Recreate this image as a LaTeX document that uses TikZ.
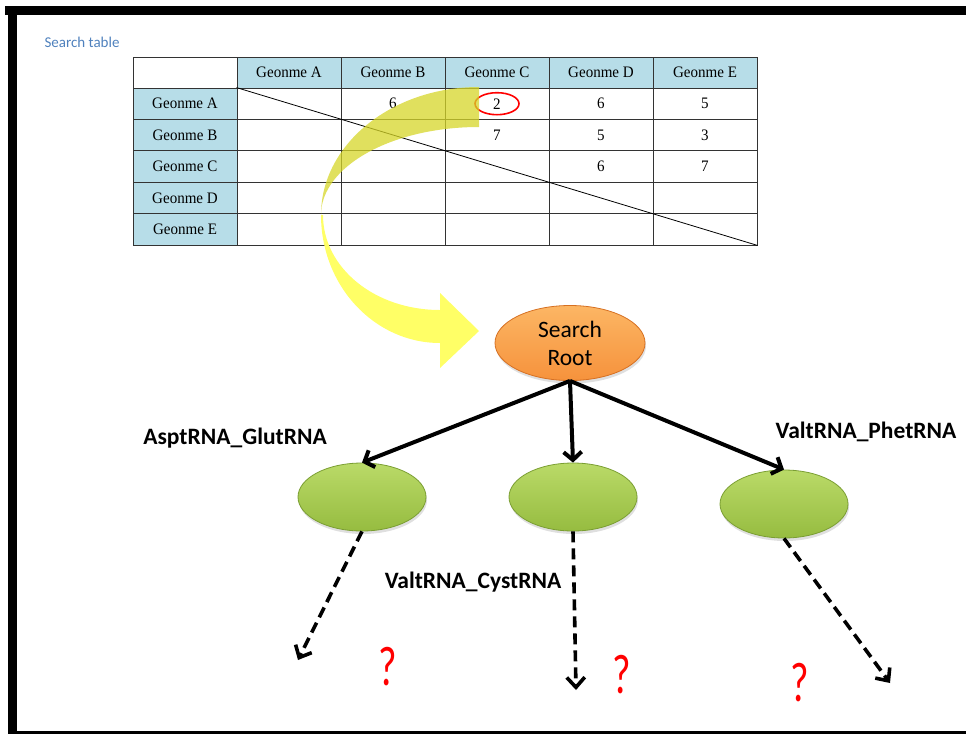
\documentclass[tikz,border=0pt]{standalone}
\usepackage{fontspec}
\setmainfont{Liberation Serif}
\setsansfont{Carlito}
\usepackage{tikz}
\usetikzlibrary{arrows.meta, shapes.geometric, shadows}
\definecolor{chead}    {RGB}{183,221,232}
\definecolor{cnote}    {RGB}{79,129,189}
\definecolor{corange}  {RGB}{246,146,60}
\definecolor{corangelt}{RGB}{252,182,100}
\definecolor{corangedk}{RGB}{214,112,34}
\definecolor{cgreen}   {RGB}{150,188,64}
\definecolor{cgreenlt} {RGB}{186,218,104}
\definecolor{cgreendk} {RGB}{122,158,50}
\definecolor{cyback}   {RGB}{214,214,40}
\definecolor{cyfront}  {RGB}{255,255,102}
\newcommand{\narrow}[1]{\scalebox{0.94}[1]{#1}}
\tikzset{
  cell/.style={rectangle, draw=black!80, line width=0.8pt,
               minimum width=104, minimum height=31.4, inner sep=0pt,
               font=\fontsize{16}{18}\selectfont},
  hdr/.style={cell, fill=chead},
  val/.style={font=\fontsize{16}{18}\selectfont, inner sep=0pt},
  root/.style={ellipse, inner sep=0pt, minimum width=150, minimum height=75,
               top color=corangelt, bottom color=corange, draw=corangedk, line width=0.8pt,
               drop shadow={opacity=0.25, shadow xshift=1pt, shadow yshift=-3pt},
               font=\sffamily\fontsize{23.5}{28}\selectfont, align=center},
  leaf/.style={ellipse, inner sep=0pt, minimum width=128, minimum height=68,
               top color=cgreenlt, bottom color=cgreen, draw=cgreendk, line width=0.8pt,
               drop shadow={opacity=0.25, shadow xshift=1pt, shadow yshift=-3pt}},
  arr/.style={-{Straight Barb[length=8pt,width=18pt]}, line width=4pt},
  darr/.style={-{Straight Barb[length=10pt,width=18pt]}, line width=3.6pt,
               dash pattern=on 11pt off 6pt},
  lbl/.style={font=\sffamily\bfseries\fontsize{23.5}{28}\selectfont, inner sep=0pt},
  qmark/.style={text=red, font=\sffamily\fontsize{40}{40}\selectfont, inner sep=0pt},
}

\begin{document}
\begin{tikzpicture}[x=1pt, y=-1pt]
  \useasboundingbox (0,0) rectangle (966,734);
  % ── Frame ──────────────────────────────────────────────────────────────────
  \fill[black] (5,6) rectangle (966,15);
  \fill[black] (8,6) rectangle (17,734);
  \fill[black] (17,731) rectangle (966,734);

  \node[font=\sffamily\fontsize{15}{17}\selectfont, text=cnote, anchor=west] at (41,42) (title) {Search table};

  % ── Table ──────────────────────────────────────────────────────────────────
  \node[cell, minimum height=31] at (185,72.5) (corner) {};
  \foreach \g [count=\i] in {A,B,C,D,E} {
    \node[hdr, minimum height=31] at ({185+104*\i},72.5) (h\g) {\narrow{Geonme \g}};
    \node[hdr] at (185,{72.3+31.4*\i}) (r\g) {\narrow{Geonme \g}};
  }
  \foreach \r in {1,...,5}
    \foreach \c in {1,...,5}
      \node[cell] at ({185+104*\c},{72.3+31.4*\r}) (c\r\c) {};
  \draw[line width=0.8pt] (c11.north west) -- (c55.south east);
  \foreach \r/\c/\v in {1/2/6, 1/3/2, 1/4/6, 1/5/5, 2/3/7, 2/4/5, 2/5/3, 3/4/6, 3/5/7}
    \node[val] at (c\r\c) (v\r\c) {\narrow{\v}};
  \node[ellipse, draw=red, line width=1.6pt, minimum width=44, minimum height=22] at (c13) (pick) {};

  % ── Curved arrow ───────────────────────────────────────────────────────────
  \fill[cyback, opacity=0.75] (479,87) .. controls (391.7,87) and (321,144.3) .. (321,215)
    .. controls (321,166.4) and (391.7,127) .. (479,127) -- cycle;
  \fill[cyfront] (321,215) .. controls (321,285.7) and (374.3,343) .. (440,343)
    -- (440,368) -- (479,331) -- (440,293) -- (440,310)
    .. controls (374.3,310) and (323,267.5) .. (323,215) -- cycle;

  % ── Search tree ────────────────────────────────────────────────────────────
  \node[root] at (570,343) (root) {Search\\Root};
  \node[leaf] at (362,497) (lt) {};
  \node[leaf] at (573,497) (mt) {};
  \node[leaf] at (784,504) (rt) {};

  \draw[arr] (root.south) -- (lt.north);
  \draw[arr] (root.south) -- (mt.north);
  \draw[arr] (root.south) -- (rt.north);

  \coordinate (lend) at (298,660);
  \coordinate (mend) at (576,690);
  \coordinate (rend) at (890,683);
  \draw[darr] (lt.south) -- (lend);
  \draw[darr] (mt.south) -- (mend);
  \draw[darr] (rt.south) -- (rend);

  \node[lbl] at (235,438) (lblA) {AsptRNA\_GlutRNA};
  \node[lbl] at (866,432) (lblP) {ValtRNA\_PhetRNA};
  \node[lbl] at (473,582) (lblC) {ValtRNA\_CystRNA};

  \node[qmark] at (388,667) (q1) {\scalebox{1}[1.4]{?}};
  \node[qmark] at (622,675) (q2) {\scalebox{1}[1.4]{?}};
  \node[qmark] at (800,683) (q3) {\scalebox{1}[1.4]{?}};
\end{tikzpicture}
\end{document}
